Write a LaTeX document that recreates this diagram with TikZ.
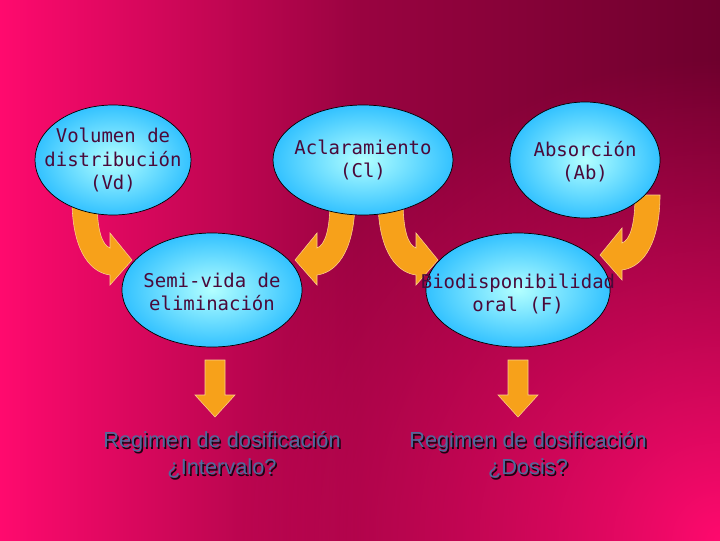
\documentclass[tikz,border=0pt]{standalone}
\usepackage{fontspec}
\setmainfont{Liberation Sans}
\newfontfamily\monof{DejaVu Sans Mono}
\usetikzlibrary{shapes.geometric,fadings}
\definecolor{ink}{HTML}{4A0A3A}
\definecolor{orng}{HTML}{F7A11A}
\definecolor{blut}{HTML}{4F6A9C}
\definecolor{hot}{RGB}{255,10,110}
\definecolor{dk}{RGB}{110,0,45}
\tikzfading[name=glow, inner color=transparent!0, outer color=transparent!100]
\tikzset{
  ellbg/.style={draw=black,line width=0.5pt,inner color=white!70!cyan,outer color=cyan!70!blue!80!white},
  ell/.style={font=\monof\fontsize{13.5}{16.5}\selectfont,text=ink,align=center,inner sep=0pt},
  res/.style={font=\fontsize{15.5}{19}\selectfont,text=blut,align=center},
  shd/.style={font=\fontsize{15.5}{19}\selectfont,text=black!70!ink,align=center},
  orangefill/.style={fill=orng,draw=orng!50!white,line width=0.4pt},
  pics/curv/.style={code={
    \path[orangefill] (0,0) .. controls (0,45) and (15,72) .. (38,75) -- (38,85) -- (60,60) -- (38,33) -- (38,48) .. controls (30,45) and (25,30) .. (25,0) -- cycle;}},
  pics/down/.style={code={
    \path[orangefill] (-10,0) -- (10,0) -- (10,35) -- (20,35) -- (0,57) -- (-20,35) -- (-10,35) -- cycle;}}
}
\begin{document}
\begin{tikzpicture}[x=0.025cm,y=-0.025cm]
\shade[left color=hot,right color=dk,middle color=dk!70!hot] (0,0) rectangle (720,540);
\useasboundingbox (0,0) rectangle (720,540);
\begin{scope}
\clip (0,0) rectangle (720,540);
\fill[hot,path fading=glow] (720,540) circle (480);
\end{scope}
\pic at (72,200) {curv};
\pic[xscale=-1] at (355,200) {curv};
\pic at (378,200) {curv};
\pic[xscale=-1] at (660,195) {curv};
\shade[ellbg] (113,160) ellipse [x radius=78,y radius=55];
\shade[ellbg] (363,160) ellipse [x radius=90,y radius=55];
\shade[ellbg] (585,160) ellipse [x radius=75,y radius=58];
\shade[ellbg] (212,290) ellipse [x radius=90,y radius=57];
\shade[ellbg] (518,290) ellipse [x radius=92,y radius=57];
\node[ell] (vd) at (113,160) {Volumen de\\distribución\\(Vd)};
\node[ell] (cl) at (363,160) {Aclaramiento\\(Cl)};
\node[ell] (ab) at (585,162) {Absorción\\(Ab)};
\node[ell] (sv) at (212,292) {Semi-vida de\\eliminación};
\node[ell] (bio) at (518,294) {Biodisponibilidad\\oral (F)};
\pic at (215,360) {down};
\pic at (518,360) {down};
\node[shd] at (223.5,456.5) {Regimen de dosificación\\¿Intervalo?};
\node[res] (r1) at (222,455) {Regimen de dosificación\\¿Intervalo?};
\node[shd] at (529.5,456.5) {Regimen de dosificación\\¿Dosis?};
\node[res] (r2) at (528,455) {Regimen de dosificación\\¿Dosis?};
\end{tikzpicture}
\end{document}
